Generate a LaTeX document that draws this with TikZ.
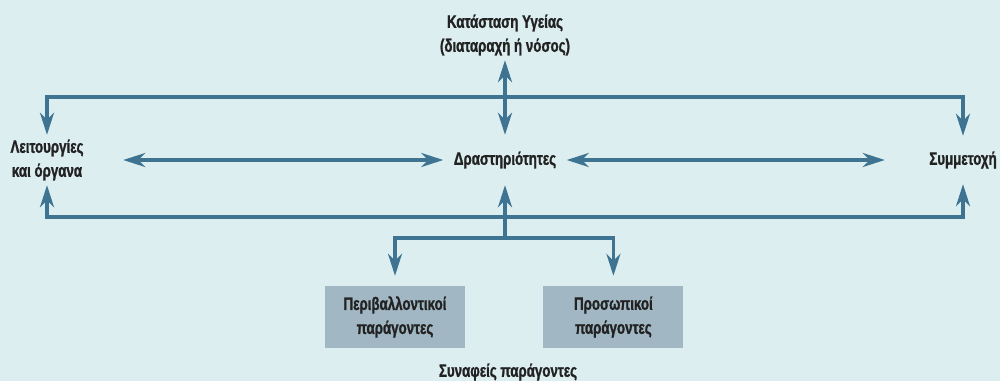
\documentclass[tikz,border=0pt]{standalone}
\usepackage{fontspec}
\newfontfamily\labelfont{Liberation Sans}[UprightFont=*-Bold, FakeStretch=0.74, FakeBold=1.2]
\usepackage{xcolor}
\usepackage{tikz}
\usetikzlibrary{arrows.meta, positioning}

\definecolor{bgcol}{RGB}{220,238,240}
\definecolor{linecol}{RGB}{62,116,145}
\definecolor{boxcol}{RGB}{161,183,196}
\definecolor{txtcol}{RGB}{34,34,34}

\begin{document}
\begin{tikzpicture}[
    x=1pt, y=-1pt,
    font=\labelfont\fontsize{18}{24}\selectfont,
    >={Stealth[length=22pt, width=14pt, inset=7pt]},
    label/.style={text=txtcol, align=center, inner sep=0pt},
    factor/.style={label, fill=boxcol, minimum width=140pt, minimum height=62pt},
    arrow/.style={->, line width=3.2pt, draw=linecol},
    twoway/.style={<->, line width=3.2pt, draw=linecol}
]
\useasboundingbox[fill=bgcol] (0,0) rectangle (1000,381);

% Top
\node[label, minimum height=50pt] (health) at (505,35) {Κατάσταση Υγείας\\(διαταραχή ή νόσος)};

% Middle Row
\node[label, minimum width=152pt, minimum height=50pt] (func) at (47,160) {Λειτουργίες\\και όργανα};
\node[label, minimum width=123pt, minimum height=50pt] (act) at (505,160) {Δραστηριότητες};
\node[label, minimum width=156pt, minimum height=48pt] (part) at (963,160) {Συμμετοχή};

% Bottom Row
\node[factor] (env) at (395,317) {Περιβαλλοντικοί\\παράγοντες};
\node[factor, right=78pt of env] (pers) {Προσωπικοί\\παράγοντες};
\node[label] (ctx) at (508,372) {Συναφείς παράγοντες};

% Helper coordinates
\coordinate (topy) at (0,97);
\coordinate (boty) at (0,217);
\coordinate (split) at (505,238);

% Connections
\draw[twoway] (health.south) -- (act.north);
\draw[twoway] (func.east) -- (act.west);
\draw[twoway] (act.east) -- (part.east -| part.west);
\draw[twoway] (func.north) -- (func.north |- topy) -- (part.north |- topy) -- (part.north);
\draw[twoway] (func.south) -- (func.south |- boty) -- (part.south |- boty) -- (part.south);

% Context factors
\draw[arrow] (split) -- (act.south);
\draw[arrow, shorten >=10pt] (split) -| (env.north);
\draw[arrow, shorten >=10pt] (split) -| (pers.north);

\end{tikzpicture}
\end{document}
